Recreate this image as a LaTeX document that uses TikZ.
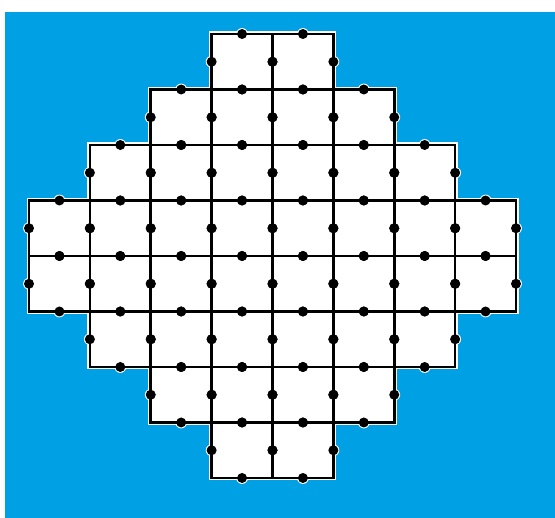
\documentclass[tikz,border=0pt]{standalone}
\definecolor{bgblue}{RGB}{0,161,228}
\begin{document}
\begin{tikzpicture}[x=1pt,y=-1pt,
  gridline/.style={black,line width=2.7pt,line join=miter},
  haloline/.style={white,line width=5pt},
  dotfill/.style={black},
  halodot/.style={white}]
\useasboundingbox (0,0) rectangle (555,518);
\fill[bgblue] (5,12) rectangle (555,518);
\def\rows{0/3/5,1/2/6,2/1/7,3/0/8,4/0/8,5/1/7,6/2/6,7/3/5}
% white fill
\foreach \j/\a/\b in \rows{
  \fill[white] ({29+60.875*\a},{34+55.5*\j}) rectangle ({29+60.875*\b},{34+55.5*(\j+1)});
}
% halos
\foreach \j/\a/\b in \rows{
  \pgfmathtruncatemacro\bm{\b-1}
  \foreach \i in {\a,...,\bm}{
    \draw[haloline] ({29+60.875*\i},{34+55.5*\j}) rectangle ({29+60.875*(\i+1)},{34+55.5*(\j+1)});
    \fill[halodot] ({29+60.875*(\i+0.5)},{34+55.5*\j}) circle (5.9pt);
    \fill[halodot] ({29+60.875*(\i+0.5)},{34+55.5*(\j+1)}) circle (5.9pt);
    \fill[halodot] ({29+60.875*\i},{34+55.5*(\j+0.5)}) circle (5.9pt);
    \fill[halodot] ({29+60.875*(\i+1)},{34+55.5*(\j+0.5)}) circle (5.9pt);
  }
}
% re-fill interior white
\foreach \j/\a/\b in \rows{
  \fill[white] ({29+60.875*\a},{34+55.5*\j}) rectangle ({29+60.875*\b},{34+55.5*(\j+1)});
}
% black lines
\foreach \j/\a/\b in \rows{
  \pgfmathtruncatemacro\bm{\b-1}
  \foreach \i in {\a,...,\bm}{
    \draw[gridline] ({29+60.875*\i},{34+55.5*\j}) rectangle ({29+60.875*(\i+1)},{34+55.5*(\j+1)});
  }
}
% dots
\foreach \j/\a/\b in \rows{
  \pgfmathtruncatemacro\bm{\b-1}
  \foreach \i in {\a,...,\bm}{
    \fill[dotfill] ({29+60.875*(\i+0.5)},{34+55.5*\j}) circle (5pt);
    \fill[dotfill] ({29+60.875*(\i+0.5)},{34+55.5*(\j+1)}) circle (5pt);
    \fill[dotfill] ({29+60.875*\i},{34+55.5*(\j+0.5)}) circle (5pt);
    \fill[dotfill] ({29+60.875*(\i+1)},{34+55.5*(\j+0.5)}) circle (5pt);
  }
}
\end{tikzpicture}
\end{document}
